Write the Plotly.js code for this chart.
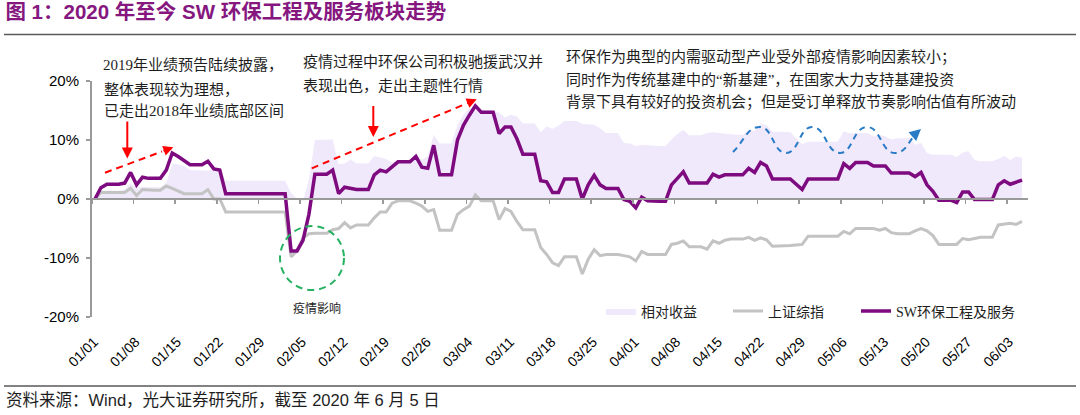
<!DOCTYPE html>
<html>
<head>
<meta charset="utf-8">
<script src="https://cdn.plot.ly/plotly-3.0.1.min.js"></script>
<style>
  html, body { margin: 0; padding: 0; background: #fff; }
  #chart { width: 1080px; height: 415px; }
</style>
</head>
<body>
<div id="chart"></div>
<script>
// ---------------- data (calendar days, 2020-01-01 .. 2020-06-05) ----------------
const dates = [
  '2020-01-01','2020-01-02','2020-01-03','2020-01-04','2020-01-05','2020-01-06','2020-01-07','2020-01-08','2020-01-09','2020-01-10',
  '2020-01-11','2020-01-12','2020-01-13','2020-01-14','2020-01-15','2020-01-16','2020-01-17','2020-01-18','2020-01-19','2020-01-20',
  '2020-01-21','2020-01-22','2020-01-23','2020-01-24','2020-01-25','2020-01-26','2020-01-27','2020-01-28','2020-01-29','2020-01-30','2020-01-31',
  '2020-02-01','2020-02-02','2020-02-03','2020-02-04','2020-02-05','2020-02-06','2020-02-07','2020-02-08','2020-02-09','2020-02-10',
  '2020-02-11','2020-02-12','2020-02-13','2020-02-14','2020-02-15','2020-02-16','2020-02-17','2020-02-18','2020-02-19','2020-02-20',
  '2020-02-21','2020-02-22','2020-02-23','2020-02-24','2020-02-25','2020-02-26','2020-02-27','2020-02-28','2020-02-29',
  '2020-03-01','2020-03-02','2020-03-03','2020-03-04','2020-03-05','2020-03-06','2020-03-07','2020-03-08','2020-03-09','2020-03-10',
  '2020-03-11','2020-03-12','2020-03-13','2020-03-14','2020-03-15','2020-03-16','2020-03-17','2020-03-18','2020-03-19','2020-03-20',
  '2020-03-21','2020-03-22','2020-03-23','2020-03-24','2020-03-25','2020-03-26','2020-03-27','2020-03-28','2020-03-29','2020-03-30','2020-03-31',
  '2020-04-01','2020-04-02','2020-04-03','2020-04-04','2020-04-05','2020-04-06','2020-04-07','2020-04-08','2020-04-09','2020-04-10',
  '2020-04-11','2020-04-12','2020-04-13','2020-04-14','2020-04-15','2020-04-16','2020-04-17','2020-04-18','2020-04-19','2020-04-20',
  '2020-04-21','2020-04-22','2020-04-23','2020-04-24','2020-04-25','2020-04-26','2020-04-27','2020-04-28','2020-04-29','2020-04-30',
  '2020-05-01','2020-05-02','2020-05-03','2020-05-04','2020-05-05','2020-05-06','2020-05-07','2020-05-08','2020-05-09','2020-05-10',
  '2020-05-11','2020-05-12','2020-05-13','2020-05-14','2020-05-15','2020-05-16','2020-05-17','2020-05-18','2020-05-19','2020-05-20',
  '2020-05-21','2020-05-22','2020-05-23','2020-05-24','2020-05-25','2020-05-26','2020-05-27','2020-05-28','2020-05-29','2020-05-30','2020-05-31',
  '2020-06-01','2020-06-02','2020-06-03','2020-06-04','2020-06-05'
];

// SW环保工程及服务 (%)
const swEnv = [
  0,1.9,2.5,2.5,2.5,2.7,4.5,2.4,3.7,3.5,3.5,3.5,4.9,7.8,7.2,6.5,5.8,5.8,5.8,6.4,5.1,4.9,0.9,0.9,0.9,0.9,0.9,0.9,0.9,0.9,0.9,
  0.9,0.9,-8.8,-8.8,-7.0,-2.6,4.2,4.2,4.2,4.9,0.9,2.0,1.8,1.6,1.6,1.6,4.1,4.9,4.6,5.5,6.3,6.3,6.3,7.2,5.4,5.2,9.1,4.1,4.1,
  4.1,10.0,12.5,14.2,15.8,14.7,14.7,14.7,11.1,12.2,12.2,10.2,7.6,7.6,7.6,3.1,2.9,1.1,1.1,3.4,3.4,3.4,0.0,2.4,4.0,2.4,1.8,1.8,1.8,-0.1,-0.4,
  -1.5,0.3,-0.3,-0.4,-0.4,-0.4,2.4,3.5,4.6,2.7,2.7,2.7,2.7,4.2,3.7,4.1,4.1,4.1,4.1,5.2,4.5,6.2,5.6,3.4,3.4,3.4,3.4,2.5,1.6,3.4,
  3.4,3.4,3.4,3.4,3.4,6.0,5.2,6.2,6.2,6.2,5.6,5.6,5.6,4.4,4.4,4.4,4.4,3.8,4.5,2.4,1.3,-0.2,-0.2,-0.2,-0.6,1.2,1.2,-0.1,-0.1,-0.1,-0.1,
  2.4,3.1,2.5,2.9,3.2
];

// 上证综指 (%)
const shIndex = [
  0,1.1,1.1,1.1,1.1,1.1,1.8,0.6,1.6,1.5,1.5,1.5,2.2,1.8,1.3,0.9,0.9,0.9,0.9,1.6,0.0,0.0,-2.2,-2.2,-2.2,-2.2,-2.2,-2.2,-2.2,-2.2,-2.2,
  -2.2,-2.2,-9.8,-8.8,-6.6,-5.9,-5.8,-5.8,-5.8,-5.2,-5.0,-4.0,-4.9,-4.4,-4.4,-4.4,-3.2,-2.2,-2.2,-0.7,-0.3,-0.3,-0.3,-0.7,-1.2,-2.1,-1.8,-5.3,-5.3,
  -5.3,-2.6,-1.8,-1.2,0.7,-0.3,-0.3,-0.3,-3.5,-1.6,-2.1,-3.8,-5.2,-5.2,-5.2,-8.2,-9.4,-10.8,-11.3,-9.8,-9.8,-9.8,-12.7,-10.2,-8.6,-9.6,-9.4,-9.4,-9.4,-9.6,-9.8,
  -10.5,-8.9,-9.4,-9.4,-9.4,-9.4,-7.7,-7.5,-7.1,-8.1,-8.1,-8.1,-8.5,-7.1,-7.5,-7.0,-6.8,-6.8,-6.8,-6.5,-7.0,-6.6,-6.9,-8.0,-8.0,-8.0,-7.9,-7.8,-7.7,-6.3,
  -6.3,-6.3,-6.3,-6.3,-6.3,-5.5,-5.9,-5.0,-5.0,-5.0,-5.0,-5.3,-5.0,-5.7,-5.9,-5.9,-5.9,-5.4,-5.0,-5.4,-6.2,-7.7,-7.7,-7.7,-7.7,-6.7,-6.9,-6.7,-6.5,-6.5,-6.5,
  -4.4,-4.2,-4.1,-4.3,-3.8
];

// 相对收益 (%)
const relReturn = [
  0,0.8,1.4,1.4,1.4,1.6,2.7,1.8,2.1,2.0,2.0,2.0,2.7,6.0,5.9,5.6,4.9,4.9,4.9,4.8,5.1,4.9,3.1,3.1,3.1,3.1,3.1,3.1,3.1,3.1,3.1,
  3.1,3.1,1.0,0.0,-0.4,3.3,10.0,10.0,10.0,10.1,5.9,6.0,6.7,6.0,6.0,6.0,7.3,7.1,6.8,6.2,6.6,6.6,6.6,7.9,6.6,7.3,10.9,9.4,9.4,
  9.4,12.6,14.3,15.4,15.1,15.0,15.0,15.0,14.6,13.8,14.3,14.0,12.8,12.8,12.8,11.3,12.3,11.9,12.4,13.2,13.2,13.2,12.7,12.6,12.6,12.0,11.2,11.2,11.2,9.5,9.4,
  9.0,9.2,9.1,9.0,9.0,9.0,10.1,11.0,11.7,10.8,10.8,10.8,11.2,11.3,11.2,11.1,10.9,10.9,10.9,11.7,11.5,12.8,12.5,11.4,11.4,11.4,11.3,10.3,9.3,9.7,
  9.7,9.7,9.7,9.7,9.7,11.5,11.1,11.2,11.2,11.2,10.6,10.9,10.6,10.1,10.3,10.3,10.3,9.2,9.5,7.8,7.5,7.5,7.5,7.5,7.1,7.9,8.1,6.6,6.4,6.4,6.4,
  6.8,7.3,6.6,7.2,7.0
];

const tickDates = ['2020-01-01','2020-01-08','2020-01-15','2020-01-22','2020-01-29','2020-02-05','2020-02-12','2020-02-19',
  '2020-02-26','2020-03-04','2020-03-11','2020-03-18','2020-03-25','2020-04-01','2020-04-08','2020-04-15','2020-04-22',
  '2020-04-29','2020-05-06','2020-05-13','2020-05-20','2020-05-27','2020-06-03'];
const tickLabels = ['01/01','01/08','01/15','01/22','01/29','02/05','02/12','02/19','02/26','03/04','03/11','03/18','03/25',
  '04/01','04/08','04/15','04/22','04/29','05/06','05/13','05/20','05/27','06/03'];
const yTicks = [-20, -10, 0, 10, 20];
const yTickLabels = ['-20%', '-10%', '0%', '10%', '20%'];
const seriesNames = ['相对收益', '上证综指', 'SW环保工程及服务'];

// ---------------- layout helpers ----------------
const L = 92, R = 1028, T = 81, B = 317;          // plot area in px
const px = x => (x - L) / (R - L);
const py = y => (B - y) / (B - T);
const xMid = dates.map(d => d + ' 12:00');        // each day drawn at its centre
const xRange = ['2020-01-01 00:00', '2020-06-06 12:00'];

const CJK = 'Noto Sans CJK SC';
const SANS = 'Liberation Sans, Arial, ' + CJK;
const SERIF = 'Liberation Serif, ' + CJK;

const traces = [
  { x: xMid, y: relReturn, name: seriesNames[0], type: 'scatter', mode: 'lines', legend: 'legend',
    fill: 'tozeroy', fillcolor: '#F0E8FB', line: { width: 0, color: '#F0E8FB' }, hoverinfo: 'skip' },
  { x: xMid, y: shIndex, name: seriesNames[1], type: 'scatter', mode: 'lines', legend: 'legend',
    line: { width: 3, color: '#C3C3C3' }, hoverinfo: 'skip' },
  { x: xMid, y: swEnv, name: seriesNames[2], type: 'scatter', mode: 'lines', legend: 'legend2',
    line: { width: 3.5, color: '#7E0A80' }, hoverinfo: 'skip' },
  { x: [], y: [], xaxis: 'x2', yaxis: 'y', showlegend: false, hoverinfo: 'skip', type: 'scatter', mode: 'lines' }
];

const textLine = (t, x, y, size, fam) => ({
  text: t, xref: 'paper', yref: 'paper', x: px(x), y: py(y), xanchor: 'left', yanchor: 'middle',
  showarrow: false, font: { family: fam || SERIF, size: size || 15, color: '#1E1E1E' }
});
// arrow with a short solid shaft ending in a head at (x, y), pointing along (dx, dy)
const arrowHead = (x, y, dx, dy, color, size, len) => {
  const n = Math.hypot(dx, dy), l = len || 12;
  return { text: '', xref: 'paper', yref: 'paper', x: px(x), y: py(y), axref: 'pixel', ayref: 'pixel',
    ax: -dx / n * l, ay: -dy / n * l, showarrow: true, arrowhead: 2, arrowsize: size || 1, arrowwidth: 2,
    arrowcolor: color, standoff: 0 };
};
const solidArrow = (x, y0, y1) => ({
  text: '', xref: 'paper', yref: 'paper', x: px(x), y: py(y1), axref: 'pixel', ayref: 'pixel',
  ax: 0, ay: -(y1 - y0), showarrow: true, arrowhead: 2, arrowsize: 1.1, arrowwidth: 2, arrowcolor: '#FF0000', standoff: 0
});

const annotations = [
  textLine('2019年业绩预告陆续披露，', 101, 65),
  textLine('整体表现较为理想，', 102, 89),
  textLine('已走出2018年业绩底部区间', 102, 111),
  textLine('疫情过程中环保公司积极驰援武汉并', 301, 62),
  textLine('表现出色，走出主题性行情', 301, 86),
  textLine('环保作为典型的内需驱动型产业受外部疫情影响因素较小；', 564, 57),
  textLine('同时作为传统基建中的“新基建”，在国家大力支持基建投资', 564, 80),
  textLine('背景下具有较好的投资机会；但是受订单释放节奏影响估值有所波动', 564, 102),
  textLine('疫情影响', 291, 308, 12),
  textLine('资料来源：Wind，光大证券研究所，截至 2020 年 6 月 5 日', 4, 400, 16.5, SANS),
  solidArrow(127.3, 120, 158.5),
  solidArrow(373.3, 104.5, 137),
  arrowHead(173.3, 147.3, 68.3, -25.4, '#FF0000'),
  arrowHead(476.7, 99.3, 165, -69, '#FF0000'),
  arrowHead(921, 129, 0.75, -0.66, '#2A7BC6', 1.15, 8)
];

const P = (x, y) => px(x).toFixed(5) + ',' + py(y).toFixed(5);
const wave = 'M' + P(733, 152) +
  ' C' + P(745, 140) + ' ' + P(747, 127) + ' ' + P(760, 127) +
  ' C' + P(773, 127) + ' ' + P(773, 153) + ' ' + P(786, 153) +
  ' C' + P(799, 153) + ' ' + P(799, 127) + ' ' + P(812, 127) +
  ' C' + P(826, 127) + ' ' + P(826, 153) + ' ' + P(840, 153) +
  ' C' + P(853, 153) + ' ' + P(853, 127) + ' ' + P(867, 127) +
  ' C' + P(881, 127) + ' ' + P(881, 153) + ' ' + P(895, 153) +
  ' C' + P(905, 153) + ' ' + P(908, 143) + ' ' + P(914, 136);

const shapes = [
  { type: 'line', xref: 'paper', yref: 'paper', x0: px(4), x1: px(1076), y0: py(34.5), y1: py(34.5),
    line: { color: '#595959', width: 1.5 } },
  { type: 'line', xref: 'paper', yref: 'paper', x0: px(4), x1: px(1076), y0: py(386), y1: py(386),
    line: { color: '#595959', width: 1.5 } },
  { type: 'line', xref: 'paper', yref: 'paper', x0: px(105), y0: py(172.7), x1: px(162), y1: py(151.5),
    line: { color: '#FF0000', width: 2, dash: '7px,5px' } },
  { type: 'line', xref: 'paper', yref: 'paper', x0: px(311.7), y0: py(168.3), x1: px(465.5), y1: py(104),
    line: { color: '#FF0000', width: 2, dash: '7px,5px' } },
  { type: 'circle', xref: 'paper', yref: 'paper', x0: px(280), x1: px(344), y0: py(290), y1: py(226),
    line: { color: '#27B262', width: 2, dash: '7px,5px' } },
  { type: 'path', xref: 'paper', yref: 'paper', path: wave,
    line: { color: '#2A7BC6', width: 2, dash: '6px,5px' } }
];

const legendFont = { family: SERIF, size: 14, color: '#1E1E1E' };
const layout = {
  width: 1080, height: 415,
  margin: { l: L, r: 1080 - R, t: T, b: 415 - B, pad: 0 },
  paper_bgcolor: '#ffffff', plot_bgcolor: 'rgba(0,0,0,0)',
  showlegend: true,
  title: { text: '<b>图 1：2020 年至今 SW 环保工程及服务板块走势</b>', xref: 'container', yref: 'container',
    x: 0.005, xanchor: 'left', y: 1 - 12 / 415, yanchor: 'middle',
    font: { family: SANS, size: 20.5, color: '#85177F' } },
  xaxis: { type: 'date', range: xRange, showgrid: false, zeroline: false, showline: false,
    tickmode: 'array', tickvals: tickDates.map(d => d + ' 08:00'), ticktext: tickLabels,
    tickangle: -45, ticks: '', ticklabelstandoff: 13,
    tickfont: { family: SANS, size: 14, color: '#000' } },
  xaxis2: { type: 'date', range: xRange, overlaying: 'x', anchor: 'free', position: 0.5,
    showgrid: false, zeroline: false, showline: true, linecolor: '#9A9A9A', linewidth: 2,
    tickmode: 'array', tickvals: tickDates, ticks: 'outside', ticklen: 4, tickwidth: 1.5,
    tickcolor: '#9A9A9A', showticklabels: false },
  yaxis: { range: [-20, 20], tickmode: 'array', tickvals: yTicks, ticktext: yTickLabels,
    showgrid: false, zeroline: false, showline: true, linecolor: '#9A9A9A', linewidth: 2,
    ticks: 'outside', ticklen: 4, tickwidth: 1.5, tickcolor: '#9A9A9A', ticklabelstandoff: 4,
    tickfont: { family: SANS, size: 15, color: '#000' } },
  legend: { orientation: 'h', x: px(601), xanchor: 'left', y: py(311.5), yanchor: 'middle',
    bgcolor: 'rgba(0,0,0,0)', entrywidth: 82, entrywidthmode: 'pixels', font: legendFont },
  legend2: { orientation: 'h', x: px(856), xanchor: 'left', y: py(311.5), yanchor: 'middle',
    bgcolor: 'rgba(0,0,0,0)', font: legendFont },
  annotations: annotations,
  shapes: shapes,
  hovermode: false
};

Plotly.newPlot('chart', traces, layout, { staticPlot: true, displayModeBar: false });
</script>
</body>
</html>
